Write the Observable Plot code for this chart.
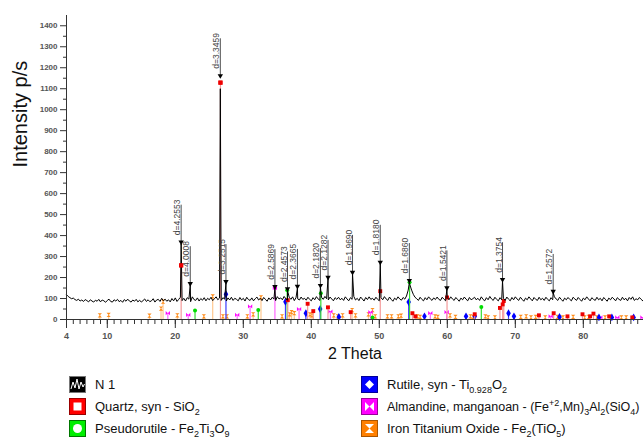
<!DOCTYPE html>
<html>
<head>
<meta charset="utf-8">
<script src="https://cdn.jsdelivr.net/npm/d3@7"></script>
<script src="https://cdn.jsdelivr.net/npm/@observablehq/plot@0.6"></script>
<style>
  body { margin: 0; background: #fff; font-family: Arial, "Liberation Sans", sans-serif; }
  #chart svg { display: block; }
  #legend { position: relative; height: 74px; font-size: 13px; color: #111; }
  .item { position: absolute; display: flex; align-items: center; height: 17px; white-space: nowrap; }
  .item svg { flex: none; margin-right: 9px; }
  .item sub, .item sup { font-size: 9px; line-height: 0; }
</style>
</head>
<body>
<div id="chart"></div>
<div id="legend"></div>
<script>
// ---- pattern: baseline intensities every 0.25° from 4.00° to 88.75°
const scanStart = 4.0;
const scanStep = 0.25;
const baseline = [
  118,110,104,99,102,95,91,97,88,93,86,95,90,84,94,88,83,92,87,96,
  84,93,89,82,91,97,86,83,94,88,96,85,91,82,95,87,97,88,83,93,
  87,96,84,92,83,90,98,86,94,85,89,99,83,93,96,86,101,89,97,87,
  94,84,100,89,103,86,96,106,90,101,88,104,97,85,108,95,91,103,88,100,
  92,104,89,101,94,106,90,99,108,94,102,91,104,97,88,103,93,106,91,101,
  96,89,105,93,101,88,106,95,91,103,89,99,107,93,101,90,105,96,87,103,
  93,106,97,90,109,98,103,94,110,99,92,106,96,108,90,104,98,93,107,96,
  101,92,106,96,89,104,94,109,98,91,106,96,110,99,93,107,98,89,104,96,
  106,94,101,91,108,98,89,104,96,110,93,101,90,107,98,88,105,95,108,96,
  101,92,106,96,89,104,94,109,98,91,107,96,87,102,94,108,98,92,105,97,
  112,140,165,140,120,106,99,91,106,96,89,104,94,108,98,91,103,95,107,96,
  91,106,97,89,104,94,108,98,91,105,96,87,102,94,107,97,89,105,94,99,
  106,94,101,91,108,96,89,104,94,110,98,91,106,96,89,104,94,101,91,107,
  97,89,105,94,108,98,91,106,96,87,102,94,108,98,89,105,96,91,106,94,
  101,91,106,96,89,104,94,108,98,91,106,96,87,102,94,105,96,89,106,98,
  91,105,96,87,102,94,108,98,89,104,96,91,106,94,101,89,105,96,87,102,
  94,106,98,89,104,96,91,106,94,101,89,105,96,108,91,99,94,105,96,89
];
// peak apexes [2θ, intensity]
const peakTheta = [20.86, 22.20, 26.62, 27.45, 34.65, 36.50, 37.96, 41.34, 42.46, 46.06, 50.14, 54.42, 59.94, 68.12, 75.57];
const peakInt   = [360,   165,   1100,  175,   150,   138,   150,   155,   195,   218,   266,   178,   145,   183,   128];

// ---- peak annotations
const dLabels = ["d=4.2553","d=4.0008","d=3.3459","d=3.2515","d=2.5869","d=2.4573","d=2.3665","d=2.1820","d=2.1282","d=1.9690","d=1.8180","d=1.6860","d=1.5421","d=1.3754","d=1.2572"];
const dTheta  = [20.86, 22.20, 26.62, 27.45, 34.65, 36.50, 37.96, 41.34, 42.46, 46.06, 50.14, 54.42, 59.94, 68.12, 75.57];
const dArrow  = [369, 171, 1162, 181, 157, 146, 158, 162, 201, 225, 273, 186, 151, 190, 134];

// ---- reference phases (stick positions / heights)
const quartzT = [20.86,26.64,36.54,39.46,40.29,42.45,45.79,50.14,54.87,55.3,59.96,64.03,67.74,68.14,68.3,73.47,75.64,77.67,79.88,81.0,81.49,83.8,87.2];
const quartzI = [258,1129,92,75,40,58,35,135,30,15,105,25,55,72,88,20,30,15,25,15,28,15,10];
const pseudoT = [22.9,32.2,36.45,41.4,49.0,54.45,65.0];
const pseudoI = [43,45,140,125,10,178,60];
const rutileT = [27.45,36.2,39.2,41.3,44.05,54.32,56.64,62.75,64.04,69.0,69.8,76.5,82.3,84.2,87.4];
const rutileI = [120,85,30,50,12,83,15,15,15,30,15,12,10,10,10];
const almT = [18.9,21.9,29.1,31.0,34.65,38.2,42.8,48.7,57.5,59.9,75.2,82.5,85.0,88.7];
const almI = [30,22,22,62,150,50,38,35,30,35,15,10,10,10];
const itoT = [8.9,10.2,16.2,17.9,18.2,20.3,24.2,25.5,27.0,27.6,30.6,31.45,32.6,35.7,36.8,37.1,37.5,39.8,40.1,43.3,43.9,44.6,46.0,46.5,48.4,49.0,49.4,51.2,51.8,52.8,53.2,55.6,56.0,58.2,58.6,60.4,61.2,63.4,63.8,65.6,66.0,67.0,70.8,71.6,72.3,73.0,74.4,76.2,77.0,78.5,80.2,80.8,82.0,83.2,85.6,86.3];
const itoI = [20,22,18,52,85,20,15,110,15,15,15,25,105,15,25,35,30,25,20,20,15,20,45,20,25,45,15,15,15,15,18,15,12,15,12,20,12,15,12,15,10,10,12,15,10,12,10,12,10,12,10,12,10,10,10,10];

// ---- axis ticks
const xMajor = [4,10,20,30,40,50,60,70,80];
const yMajor = [0,100,200,300,400,500,600,700,800,900,1000,1100,1200,1300,1400];

// ---- legend
const legendNames = ["N 1", "Quartz, syn - SiO<sub>2</sub>", "Pseudorutile - Fe<sub>2</sub>Ti<sub>3</sub>O<sub>9</sub>",
  "Rutile, syn - Ti<sub>0.928</sub>O<sub>2</sub>", "Almandine, manganoan - (Fe<sup>+2</sup>,Mn)<sub>3</sub>Al<sub>2</sub>(SiO<sub>4</sub>)",
  "Iron Titanium Oxide - Fe<sub>2</sub>(TiO<sub>5</sub>)"];
const legendColors = ["#000000", "#ff0000", "#00ee00", "#0000ff", "#ff00ff", "#ff8000"];

// ---- build tables
const pattern = baseline.map((v, i) => ({t: scanStart + i * scanStep, v}));
peakTheta.forEach((t, i) => pattern.push({t, v: peakInt[i]}));
pattern.sort((a, b) => a.t - b.t);
const ann = dLabels.map((s, i) => ({s, t: dTheta[i], a: dArrow[i]}));
const tbl = (T, I) => T.map((t, i) => ({t, v: I[i]}));
const quartz = tbl(quartzT, quartzI), pseudo = tbl(pseudoT, pseudoI), rutile = tbl(rutileT, rutileI),
      alm = tbl(almT, almI), ito = tbl(itoT, itoI);

const bowtie = {draw(c, size) { const r = Math.sqrt(size) / 2;
  c.moveTo(-r, -r); c.lineTo(0, 0); c.lineTo(-r, r); c.closePath();
  c.moveTo(r, -r); c.lineTo(0, 0); c.lineTo(r, r); c.closePath(); }};
const hourglass = {draw(c, size) { const r = Math.sqrt(size) / 2;
  c.moveTo(-r, -r); c.lineTo(r, -r); c.lineTo(0, 0); c.closePath();
  c.moveTo(-r, r); c.lineTo(r, r); c.lineTo(0, 0); c.closePath(); }};

const stickMarks = (data, light, dark, symbol, r) => [
  Plot.ruleX(data, {x: "t", y1: 0, y2: "v", stroke: light, strokeWidth: 1.2}),
  Plot.dot(data, {x: "t", y: "v", fill: dark, stroke: "none", symbol, r})
];

const chart = Plot.plot({
  width: 643, height: 364,
  marginLeft: 66, marginRight: 0, marginTop: 15, marginBottom: 45,
  style: {fontFamily: "Arial, 'Liberation Sans', sans-serif", background: "#fff"},
  x: {domain: [4, 88.85]},
  y: {domain: [0, 1449]},
  marks: [
    ...stickMarks(ito, "#ffc890", "#ff8c1a", hourglass, 2.4),
    ...stickMarks(alm, "#ff66ff", "#ff00ff", bowtie, 2.4),
    ...stickMarks(rutile, "#3a3aff", "#0000ff", "diamond", 2.4),
    ...stickMarks(pseudo, "#33dd33", "#00dd00", "circle", 2.0),
    ...stickMarks(quartz, "#f59a9a", "#ee0000", "square", 2.2),
    Plot.line(pattern, {x: "t", y: "v", stroke: "#000", strokeWidth: 1}),
    Plot.dot(quartz.filter(d => d.v > 200), {x: "t", y: "v", fill: "#ee0000", symbol: "square", r: 2.4}),
    // annotations
    Plot.ruleX(ann, {x: "t", y1: "a", y2: d => d.a + 176, stroke: "#222", strokeWidth: 0.8}),
    Plot.dot(ann, {x: "t", y: "a", symbol: "triangle", rotate: 180, fill: "#000", r: 2}),
    Plot.text(ann, {x: "t", y: d => d.a + 33, text: "s", rotate: -90, textAnchor: "start",
      lineAnchor: "bottom", dx: -1, fontSize: 8.5, fill: "#444"}),
    // axes
    Plot.ruleX([4], {y1: 0, y2: 1449, stroke: "#333"}),
    Plot.ruleY([0], {stroke: "#333"}),
    Plot.axisY({ticks: yMajor, tickFormat: d3.format("d"), tickSize: 6, tickPadding: 3, fontSize: 8, fill: "#555", stroke: "#333", label: null, fontWeight: "bold"}),
    Plot.axisY({ticks: d3.range(50, 1450, 100), tickSize: 3, tickFormat: () => "", stroke: "#333", label: null}),
    Plot.axisX({ticks: xMajor, tickSize: 9, tickPadding: 4, fontSize: 9, fill: "#555", stroke: "#333", label: null, fontWeight: "bold"}),
    Plot.axisX({ticks: d3.range(5, 89, 1), tickSize: 5, tickFormat: () => "", stroke: "#333", label: null}),
    Plot.text(["Intensity p/s"], {frameAnchor: "left", dx: -46, rotate: -90, fontSize: 20, fill: "#111"}),
    Plot.text(["2 Theta"], {frameAnchor: "bottom", dy: 39, fontSize: 16, fill: "#111"})
  ]
});
document.getElementById("chart").appendChild(chart);

// ---- legend
const icons = [
  c => `<rect x="0.5" y="0.5" width="16" height="16" fill="${c}" stroke="#777"/><polyline points="2,13 4,6 6,12 8,3 10,13 12,6 14,11 15.5,8" fill="none" stroke="#fff" stroke-width="1"/>`,
  c => `<rect x="0.5" y="0.5" width="16" height="16" fill="${c}" stroke="#900"/><rect x="4.5" y="4.5" width="8" height="8" fill="#fff"/>`,
  c => `<rect x="0.5" y="0.5" width="16" height="16" fill="${c}" stroke="#070"/><circle cx="8.5" cy="8.5" r="4.5" fill="#fff"/>`,
  c => `<rect x="0.5" y="0.5" width="16" height="16" fill="${c}" stroke="#009"/><path d="M8.5,4 L13,8.5 L8.5,13 L4,8.5Z" fill="#fff"/>`,
  c => `<rect x="0.5" y="0.5" width="16" height="16" fill="${c}" stroke="#909"/><path d="M4,4 L8.5,8.5 L4,13Z M13,4 L8.5,8.5 L13,13Z" fill="#fff"/>`,
  c => `<rect x="0.5" y="0.5" width="16" height="16" fill="${c}" stroke="#a50"/><path d="M4,4 L13,4 L8.5,8.5Z M4,13 L13,13 L8.5,8.5Z" fill="#fff"/>`
];
const legend = document.getElementById("legend");
legendNames.forEach((name, i) => {
  const col = i < 3 ? 0 : 1, row = i % 3;
  const div = document.createElement("div");
  div.className = "item";
  div.style.left = (col ? 361 : 69) + "px";
  div.style.top = (12 + row * 22) + "px";
  if (i === 4) div.style.fontSize = "12.5px";
  div.innerHTML = `<svg width="17" height="17">${icons[i](legendColors[i])}</svg><span>${name}</span>`;
  legend.appendChild(div);
});
</script>
</body>
</html>
